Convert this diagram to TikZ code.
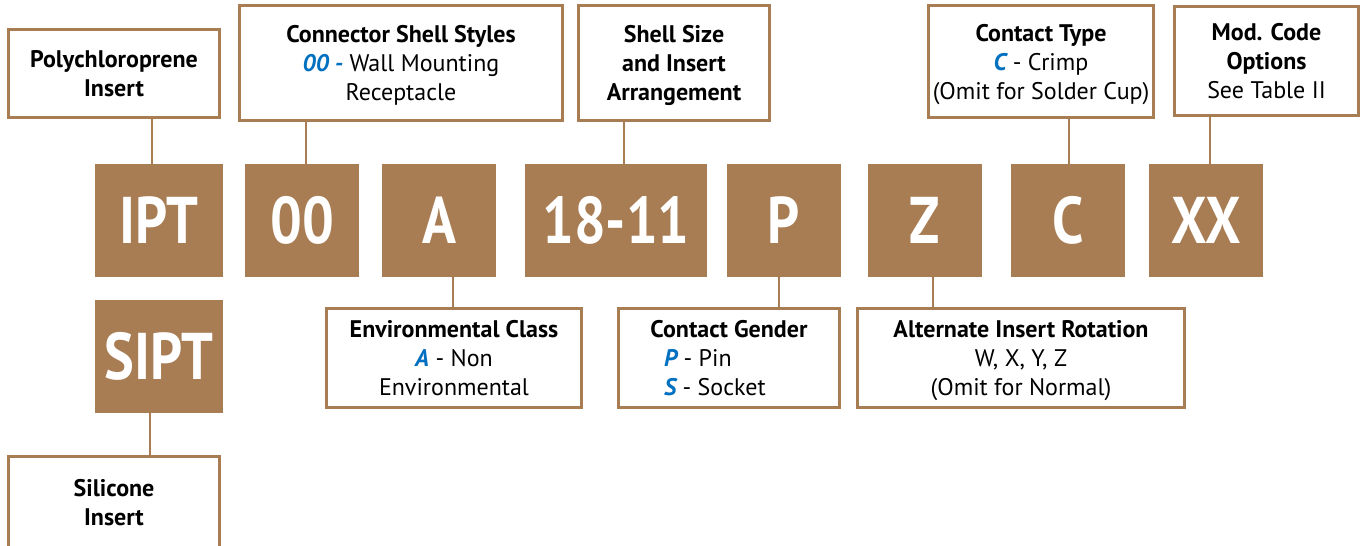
\documentclass[tikz,border=0pt]{standalone}
\usepackage{fontspec}
\setmainfont{PT Sans}
\newfontfamily\bigfont[FakeStretch=0.85]{PT Sans}
\usepackage{xcolor}
\definecolor{brownbox}{RGB}{169,125,83}
\definecolor{codeblue}{RGB}{0,112,192}
\newcommand{\code}[1]{{\color{codeblue}\bfseries\itshape #1}}
\tikzset{%
    infobox/.style={draw=brownbox, line width=2.6pt, fill=white, inner sep=0pt, align=center,
        font=\fontsize{24}{29}\selectfont, text depth=-2.5pt},
    partbox/.style={fill=brownbox, text=white, inner sep=0pt, minimum height=113pt, minimum width=114pt,
        font=\bigfont\bfseries\fontsize{66}{66}\selectfont},
    link/.style={draw=brownbox, line width=2.4pt}
}

\begin{document}
\begin{tikzpicture}[x=1pt,y=-1pt]
    \useasboundingbox (0,0) rectangle (1361,546);
    % part number blocks
    \node[partbox, minimum width=128pt] (ipt) at (159,220.5) {IPT};
    \node[partbox, minimum width=128pt] (sipt) at (159,356.5) {SIPT};
    \node[partbox] (shell) at (302,220.5) {00};
    \node[partbox] (env) at (439,220.5) {A};
    \node[partbox, minimum width=182pt] (size) at (616,220.5) {18-11};
    \node[partbox] (gender) at (784,220.5) {P};
    \node[partbox] (rot) at (925,220.5) {Z};
    \node[partbox] (ctype) at (1068,220.5) {C};
    \node[partbox] (mod) at (1206,220.5) {XX};
    % description boxes
    \node[infobox, minimum width=211pt, minimum height=88pt] (polybox) at (114,73.5) {\bfseries Polychloroprene\\\bfseries Insert};
    \node[infobox, minimum width=211pt, minimum height=92pt] (silbox) at (114,502.5) {\bfseries Silicone\\\bfseries Insert};
    \node[infobox, minimum width=323pt, minimum height=115pt] (shellbox) at (401,63) {\bfseries Connector Shell Styles\\\code{00 -} Wall Mounting\\Receptacle};
    \node[infobox, minimum width=191pt, minimum height=115pt] (sizebox) at (674,63) {\bfseries Shell Size\\\bfseries and Insert\\\bfseries Arrangement};
    \node[infobox, minimum width=225pt, minimum height=112pt] (ctypebox) at (1041,61.5) {\bfseries Contact Type\\\code{C} - Crimp\\(Omit for Solder Cup)};
    \node[infobox, minimum width=184pt, minimum height=109pt] (modbox) at (1266.5,61) {\bfseries Mod. Code\\\bfseries Options\\See Table II};
    \node[infobox, minimum width=255pt, minimum height=99pt] (envbox) at (454,358) {\bfseries Environmental Class\\\code{A} - Non\\Environmental};
    \node[infobox, minimum width=221pt, minimum height=99pt] (genderbox) at (729,358) {\bfseries Contact Gender\\\makebox[130pt][l]{\code{P} - Pin}\\\makebox[130pt][l]{\code{S} - Socket}};
    \node[infobox, minimum width=327pt, minimum height=99pt] (rotbox) at (1021,358) {\bfseries Alternate Insert Rotation\\W, X, Y, Z\\(Omit for Normal)};
    % connectors
    \draw[link] ([xshift=-7pt]ipt.north) -- ([xshift=-7pt]ipt.north |- polybox.south);
    \draw[link] ([xshift=-9pt]sipt.south) -- ([xshift=-9pt]sipt.south |- silbox.north);
    \draw[link] ([xshift=4pt]shell.north) -- ([xshift=4pt]shell.north |- shellbox.south);
    \draw[link] ([xshift=8pt]size.north) -- ([xshift=8pt]size.north |- sizebox.south);
    \draw[link] ([xshift=1pt]ctype.north) -- ([xshift=1pt]ctype.north |- ctypebox.south);
    \draw[link] ([xshift=4pt]mod.north) -- ([xshift=4pt]mod.north |- modbox.south);
    \draw[link] ([xshift=14pt]env.south) -- ([xshift=14pt]env.south |- envbox.north);
    \draw[link] ([xshift=-5pt]gender.south) -- ([xshift=-5pt]gender.south |- genderbox.north);
    \draw[link] ([xshift=8pt]rot.south) -- ([xshift=8pt]rot.south |- rotbox.north);
\end{tikzpicture}
\end{document}
